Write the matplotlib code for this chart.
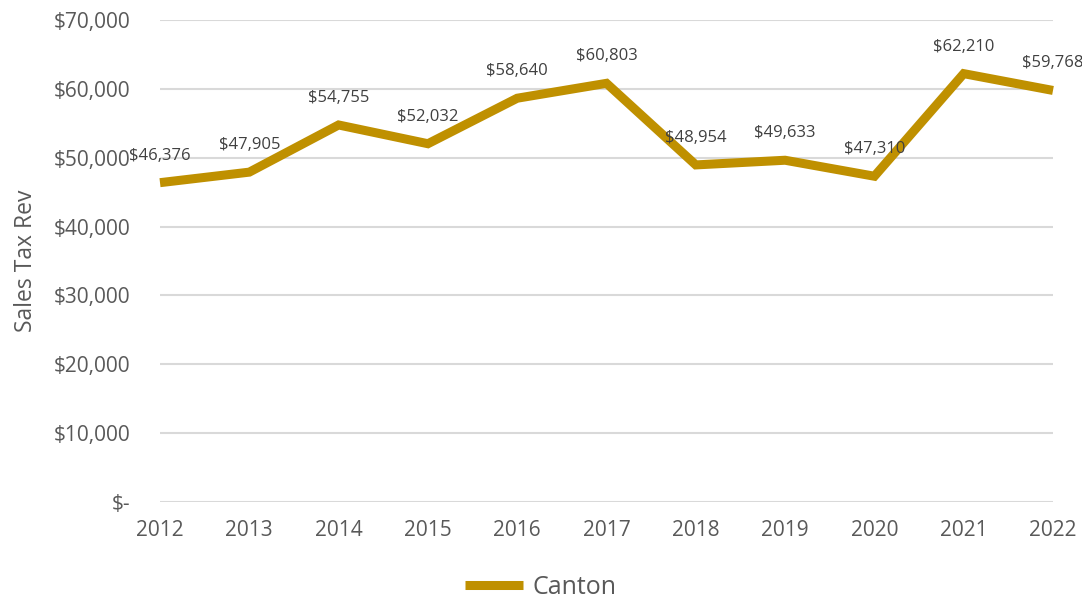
import matplotlib
matplotlib.use('Agg')
import matplotlib.pyplot as plt
from matplotlib.ticker import FuncFormatter

plt.rcParams['font.family'] = ['Open Sans', 'DejaVu Sans']

# Sales tax revenue for Canton
years = ['2012', '2013', '2014', '2015', '2016', '2017', '2018', '2019', '2020', '2021', '2022']
revenue = [46376, 47905, 54755, 52032, 58640, 60803, 48954, 49633, 47310, 62210, 59768]

LINE_COLOR = '#BF9000'
TEXT_COLOR = '#595959'
GRID_COLOR = '#D9D9D9'

fig = plt.figure(figsize=(10.82, 6.05), dpi=100)
ax = fig.add_axes([160 / 1082, 1 - 502 / 605, (1053 - 160) / 1082, (502 - 20) / 605])

x = list(range(len(years)))
ax.plot(x, revenue, color=LINE_COLOR, linewidth=6.5, solid_joinstyle='miter',
        solid_capstyle='butt', label='Canton', zorder=3, clip_on=False)

# data labels above each point
for xi, v in zip(x, revenue):
    ax.annotate(f'${v:,.0f}', (xi, v), xytext=(0, 19.5), textcoords='offset points',
                ha='center', va='center', fontsize=12, color='#404040', annotation_clip=False)

ax.set_xlim(0, len(years) - 1)
ax.set_ylim(0, 70000)
ax.set_yticks(range(0, 70001, 10000))
ax.yaxis.set_major_formatter(FuncFormatter(lambda v, p: '$-' if v == 0 else f'${v:,.0f}'))
ax.set_xticks(x)
ax.set_xticklabels(years)

ax.grid(axis='y', color=GRID_COLOR, linewidth=1.5)
ax.set_axisbelow(True)
for s in ax.spines.values():
    s.set_visible(False)
ax.tick_params(axis='both', length=0, labelsize=15, labelcolor=TEXT_COLOR)
ax.tick_params(axis='x', pad=13)
ax.tick_params(axis='y', pad=21)

ax.set_ylabel('Sales Tax Rev', fontsize=16.5, color=TEXT_COLOR)
ax.yaxis.set_label_coords(-122 / 893, 0.5)

fig.legend(loc='center', bbox_to_anchor=(0.5, 1 - 587 / 605), frameon=False,
           fontsize=18, labelcolor=TEXT_COLOR, handlelength=2.3, handletextpad=0.4)

fig.savefig('out.png', dpi=100)
